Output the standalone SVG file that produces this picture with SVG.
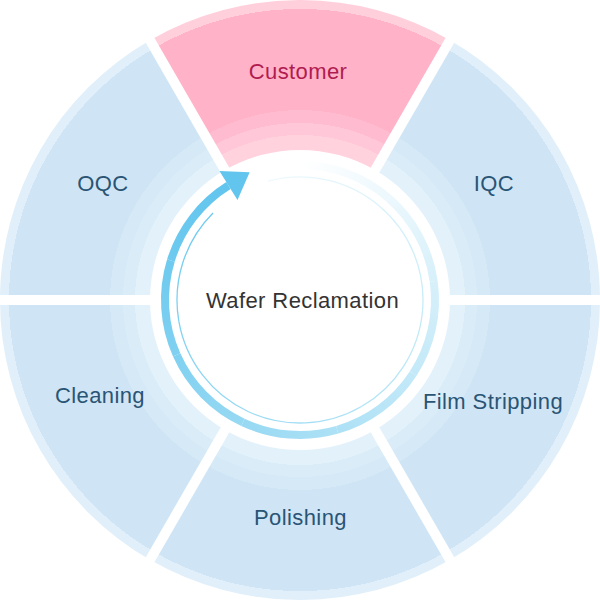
<svg xmlns="http://www.w3.org/2000/svg" width="600" height="600" viewBox="0 0 600 600">
  <defs>
    <radialGradient id="blueBands" gradientUnits="userSpaceOnUse" cx="300" cy="300" r="300">
      <stop offset="0" stop-color="#e3f1fb"/>
      <stop offset="0.55" stop-color="#e3f1fb"/>
      <stop offset="0.55" stop-color="#dbecf9"/>
      <stop offset="0.59" stop-color="#dbecf9"/>
      <stop offset="0.59" stop-color="#d5e9f7"/>
      <stop offset="0.633" stop-color="#d5e9f7"/>
      <stop offset="0.633" stop-color="#cfe5f6"/>
      <stop offset="0.97" stop-color="#cfe5f6"/>
      <stop offset="0.97" stop-color="#e0eff9"/>
      <stop offset="1" stop-color="#e0eff9"/>
    </radialGradient>
    <radialGradient id="pinkBands" gradientUnits="userSpaceOnUse" cx="300" cy="300" r="300">
      <stop offset="0" stop-color="#ffd2de"/>
      <stop offset="0.55" stop-color="#ffd2de"/>
      <stop offset="0.55" stop-color="#ffc7d7"/>
      <stop offset="0.59" stop-color="#ffc7d7"/>
      <stop offset="0.59" stop-color="#ffbcd0"/>
      <stop offset="0.633" stop-color="#ffbcd0"/>
      <stop offset="0.633" stop-color="#ffb2c8"/>
      <stop offset="0.97" stop-color="#ffb2c8"/>
      <stop offset="0.97" stop-color="#ffd0dc"/>
      <stop offset="1" stop-color="#ffd0dc"/>
    </radialGradient>
    <linearGradient id="t1" gradientUnits="userSpaceOnUse" x1="228.46" y1="185.51" x2="170.90" y2="260.53"><stop offset="0" stop-color="#62c5ee"/><stop offset="1" stop-color="#6ecaef"/></linearGradient>
    <linearGradient id="t2" gradientUnits="userSpaceOnUse" x1="170.90" y1="260.53" x2="176.67" y2="354.91"><stop offset="0" stop-color="#6ecaef"/><stop offset="1" stop-color="#80d1f1"/></linearGradient>
    <linearGradient id="t3" gradientUnits="userSpaceOnUse" x1="176.67" y1="354.91" x2="242.95" y2="422.35"><stop offset="0" stop-color="#80d1f1"/><stop offset="1" stop-color="#97d9f3"/></linearGradient>
    <linearGradient id="t4" gradientUnits="userSpaceOnUse" x1="242.95" y1="422.35" x2="337.21" y2="429.77"><stop offset="0" stop-color="#97d9f3"/><stop offset="1" stop-color="#ade1f6"/></linearGradient>
    <linearGradient id="t5" gradientUnits="userSpaceOnUse" x1="337.21" y1="429.77" x2="413.22" y2="373.53"><stop offset="0" stop-color="#ade1f6"/><stop offset="1" stop-color="#c3e9f8"/></linearGradient>
    <linearGradient id="t6" gradientUnits="userSpaceOnUse" x1="413.22" y1="373.53" x2="433.69" y2="281.21"><stop offset="0" stop-color="#c3e9f8"/><stop offset="1" stop-color="#d7f0fa"/></linearGradient>
    <linearGradient id="t7" gradientUnits="userSpaceOnUse" x1="433.69" y1="281.21" x2="388.57" y2="198.11"><stop offset="0" stop-color="#d7f0fa"/><stop offset="1" stop-color="#ecf8fd"/></linearGradient>
    <linearGradient id="t8" gradientUnits="userSpaceOnUse" x1="388.57" y1="198.11" x2="300" y2="165"><stop offset="0" stop-color="#ecf8fd"/><stop offset="1" stop-color="#ffffff"/></linearGradient>
    <linearGradient id="n1" gradientUnits="userSpaceOnUse" x1="213.03" y1="213.03" x2="178.87" y2="321.36"><stop offset="0" stop-color="#6dcaef"/><stop offset="1" stop-color="#7fd1f1"/></linearGradient>
    <linearGradient id="n2" gradientUnits="userSpaceOnUse" x1="178.87" y1="321.36" x2="248.02" y2="411.48"><stop offset="0" stop-color="#7fd1f1"/><stop offset="1" stop-color="#98daf3"/></linearGradient>
    <linearGradient id="n3" gradientUnits="userSpaceOnUse" x1="248.02" y1="411.48" x2="361.5" y2="406.52"><stop offset="0" stop-color="#98daf3"/><stop offset="1" stop-color="#b0e3f6"/></linearGradient>
    <linearGradient id="n4" gradientUnits="userSpaceOnUse" x1="361.5" y1="406.52" x2="422.53" y2="310.72"><stop offset="0" stop-color="#b0e3f6"/><stop offset="1" stop-color="#c6ebf8"/></linearGradient>
    <linearGradient id="n5" gradientUnits="userSpaceOnUse" x1="422.53" y1="310.72" x2="379.06" y2="205.78"><stop offset="0" stop-color="#c6ebf8"/><stop offset="1" stop-color="#dbf2fb"/></linearGradient>
    <linearGradient id="n6" gradientUnits="userSpaceOnUse" x1="379.06" y1="205.78" x2="268.17" y2="181.19"><stop offset="0" stop-color="#dbf2fb"/><stop offset="1" stop-color="#eef9fd"/></linearGradient>
  </defs>
  <style>
    .seg-blue { fill: url(#blueBands); }
    .seg-pink { fill: url(#pinkBands); }
    .label { font-family: "Liberation Sans", Arial, sans-serif; font-size: 22px; letter-spacing: 0.4px; text-anchor: middle; fill: #2a5474; }
    .label-pink { fill: #b01c50; }
    .label-center { fill: #333333; }
    .sep { stroke: #ffffff; stroke-width: 10; fill: none; }
    .thick { fill: none; stroke-width: 8; stroke-linecap: butt; }
    .thin { fill: none; stroke-width: 1.3; }
  </style>

  <g id="node-customer">
    <path class="seg-pink" d="M150,40.19 A300,300 0 0 1 450,40.19 L375,170.1 A150,150 0 0 0 225,170.1 Z"/>
    <text class="label label-pink" x="298" y="79">Customer</text>
  </g>
  <g id="node-iqc">
    <path class="seg-blue" d="M450,40.19 A300,300 0 0 1 600,300 L450,300 A150,150 0 0 0 375,170.1 Z"/>
    <text class="label" x="494" y="191">IQC</text>
  </g>
  <g id="node-film-stripping">
    <path class="seg-blue" d="M600,300 A300,300 0 0 1 450,559.81 L375,429.9 A150,150 0 0 0 450,300 Z"/>
    <text class="label" x="493" y="409">Film Stripping</text>
  </g>
  <g id="node-polishing">
    <path class="seg-blue" d="M450,559.81 A300,300 0 0 1 150,559.81 L225,429.9 A150,150 0 0 0 375,429.9 Z"/>
    <text class="label" x="300.5" y="525">Polishing</text>
  </g>
  <g id="node-cleaning">
    <path class="seg-blue" d="M150,559.81 A300,300 0 0 1 0,300 L150,300 A150,150 0 0 0 225,429.9 Z"/>
    <text class="label" x="100" y="403">Cleaning</text>
  </g>
  <g id="node-oqc">
    <path class="seg-blue" d="M0,300 A300,300 0 0 1 150,40.19 L225,170.1 A150,150 0 0 0 150,300 Z"/>
    <text class="label" x="103" y="191">OQC</text>
  </g>

  <g id="separators">
    <line class="sep" x1="372.5" y1="174.4" x2="455" y2="31.5"/>
    <line class="sep" x1="445" y1="300" x2="610" y2="300"/>
    <line class="sep" x1="372.5" y1="425.6" x2="455" y2="568.5"/>
    <line class="sep" x1="227.5" y1="425.6" x2="145" y2="568.5"/>
    <line class="sep" x1="155" y1="300" x2="-10" y2="300"/>
    <line class="sep" x1="227.5" y1="174.4" x2="145" y2="31.5"/>
  </g>

  <g id="connectors">
    <path class="thin" stroke="url(#n1)" d="M213.03,213.03 A123,123 0 0 0 178.87,321.36"/>
    <path class="thin" stroke="url(#n2)" d="M178.87,321.36 A123,123 0 0 0 248.02,411.48"/>
    <path class="thin" stroke="url(#n3)" d="M248.02,411.48 A123,123 0 0 0 361.5,406.52"/>
    <path class="thin" stroke="url(#n4)" d="M361.5,406.52 A123,123 0 0 0 422.53,310.72"/>
    <path class="thin" stroke="url(#n5)" d="M422.53,310.72 A123,123 0 0 0 379.06,205.78"/>
    <path class="thin" stroke="url(#n6)" d="M379.06,205.78 A123,123 0 0 0 268.17,181.19"/>

    <path class="thick" stroke="url(#t8)" d="M388.57,198.11 A135,135 0 0 0 300,165"/>
    <path class="thick" stroke="url(#t7)" d="M433.69,281.21 A135,135 0 0 0 388.57,198.11"/>
    <path class="thick" stroke="url(#t6)" d="M413.22,373.53 A135,135 0 0 0 433.69,281.21"/>
    <path class="thick" stroke="url(#t5)" d="M337.21,429.77 A135,135 0 0 0 413.22,373.53"/>
    <path class="thick" stroke="url(#t4)" d="M242.95,422.35 A135,135 0 0 0 337.21,429.77"/>
    <path class="thick" stroke="url(#t3)" d="M176.67,354.91 A135,135 0 0 0 242.95,422.35"/>
    <path class="thick" stroke="url(#t2)" d="M170.90,260.53 A135,135 0 0 0 176.67,354.91"/>
    <path class="thick" stroke="url(#t1)" d="M228.46,185.51 A135,135 0 0 0 170.90,260.53"/>
    <polygon fill="#62c5ee" points="219.45,171.1 249.66,172.26 237.47,199.93"/>
  </g>

  <g id="node-center">
    <text class="label label-center" x="302.5" y="308">Wafer Reclamation</text>
  </g>
</svg>
